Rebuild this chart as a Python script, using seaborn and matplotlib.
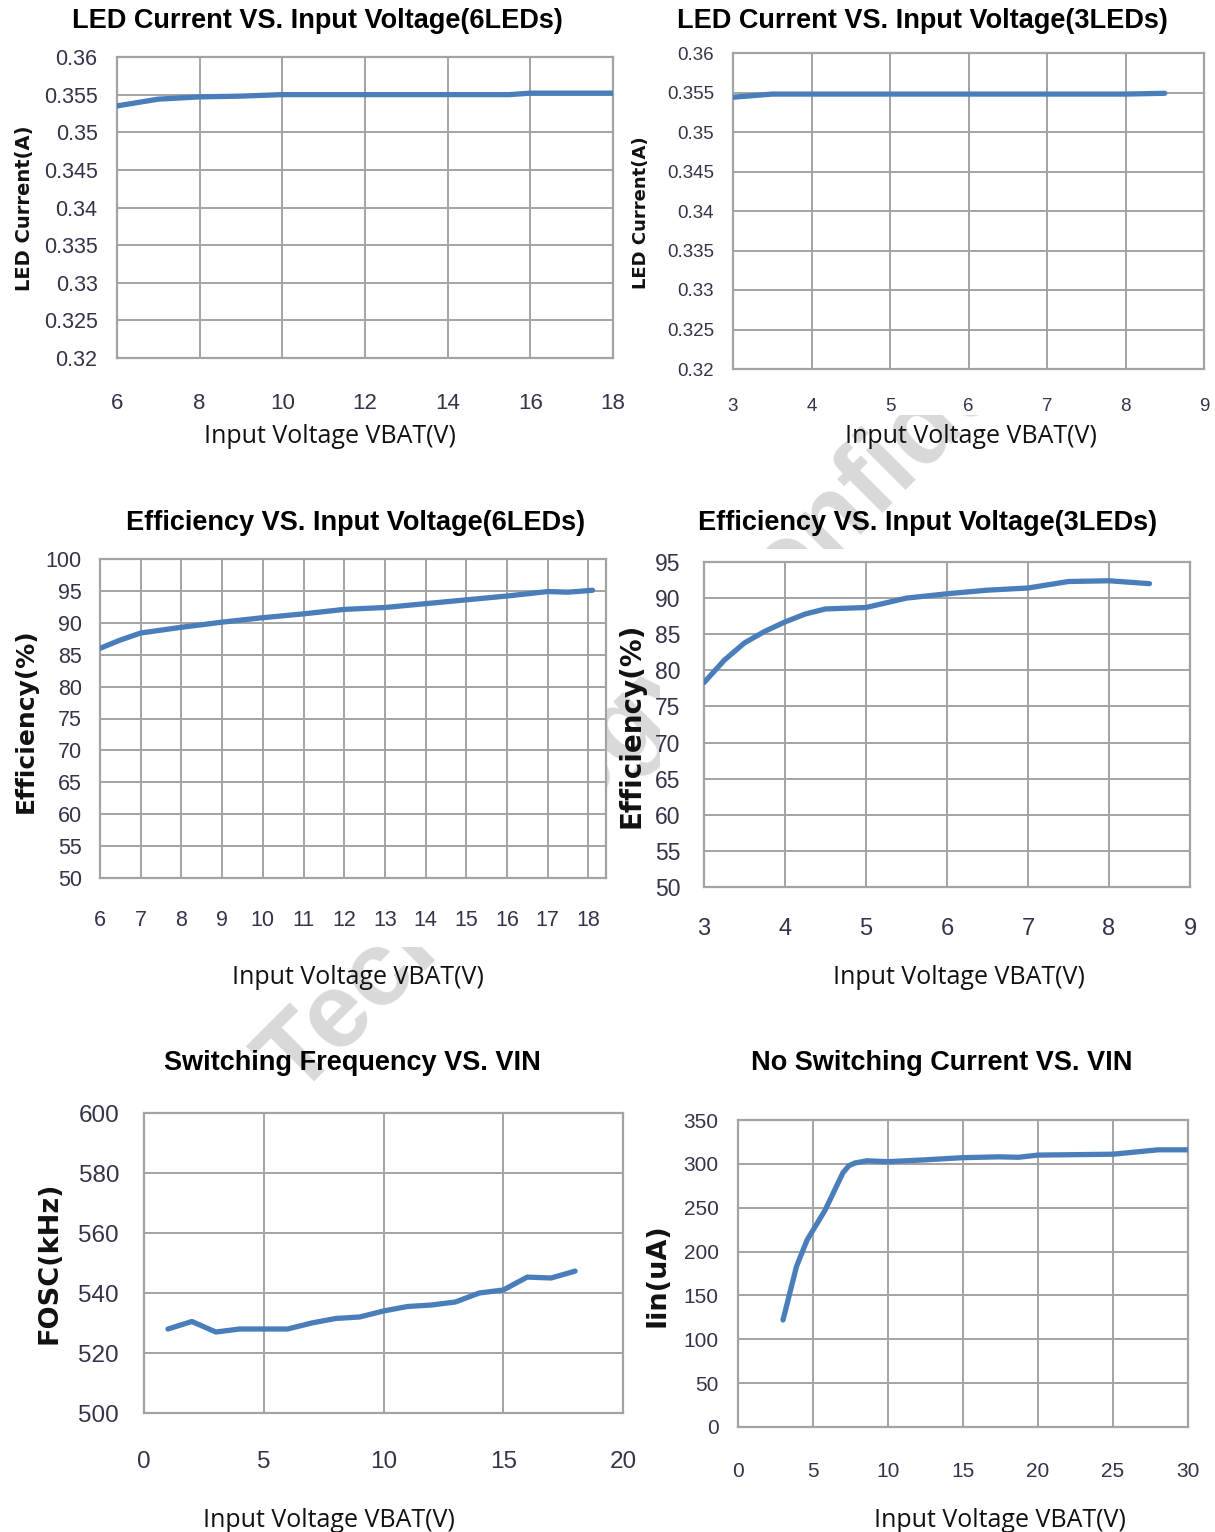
import matplotlib
matplotlib.use("Agg")
import matplotlib.pyplot as plt
import matplotlib.transforms as mtransforms
from matplotlib.patches import Rectangle
import seaborn as sns
import pandas as pd

# ---------------- data ----------------
led6_v = [6, 7, 8, 9, 10, 12, 14, 15.5, 16, 17, 18]
led6_i = [0.3535, 0.3544, 0.3547, 0.3548, 0.3550, 0.3550, 0.3550, 0.3550, 0.3552, 0.3552, 0.3552]

led3_v = [3, 3.5, 4, 5, 6, 7, 8, 8.5]
led3_i = [0.3544, 0.3548, 0.3548, 0.3548, 0.3548, 0.3548, 0.3548, 0.3549]

eff6_v = [6, 6.5, 7, 8, 9, 10, 11, 12, 13, 14, 15, 16, 17, 17.5, 18.1]
eff6 = [86.0, 87.3, 88.4, 89.3, 90.1, 90.8, 91.4, 92.1, 92.4, 93.0, 93.6, 94.2, 94.9, 94.8, 95.1]

eff3_v = [3, 3.25, 3.5, 3.75, 4, 4.25, 4.5, 5, 5.5, 6, 6.5, 7, 7.5, 8, 8.5]
eff3 = [78.3, 81.4, 83.8, 85.4, 86.7, 87.8, 88.5, 88.7, 90.0, 90.6, 91.1, 91.4, 92.3, 92.4, 92.0]

fosc_v = [1, 2, 3, 4, 5, 6, 7, 8, 9, 10, 11, 12, 13, 14, 15, 16, 17, 18]
fosc = [528, 530.5, 527, 528, 528, 528, 530, 531.5, 532, 534, 535.5, 536, 537, 540, 541, 545.3, 545, 547.3]

iin_v = [3, 3.9, 4.6, 5.8, 7.0, 7.4, 7.8, 8.6, 10, 12.4, 14.9, 17.4, 18.7, 20, 22.5, 25, 28, 30]
iin = [122, 183, 213, 247, 290, 298, 301, 303.5, 302.5, 304.5, 307, 308, 307.5, 310, 310.5, 311, 316, 316]

titles = ["LED Current VS. Input Voltage(6LEDs)", "LED Current VS. Input Voltage(3LEDs)",
          "Efficiency VS. Input Voltage(6LEDs)", "Efficiency VS. Input Voltage(3LEDs)",
          "Switching Frequency VS. VIN", "No Switching Current VS. VIN"]
ylabels = ["LED Current(A)", "LED Current(A)", "Efficiency(%)", "Efficiency(%)", "FOSC(kHz)", "Iin(uA)"]
xlabel = "Input Voltage VBAT(V)"
watermark = "Technology Confidential"

# ---------------- style ----------------
sns.set_theme(style="white")
plt.rcParams['font.family'] = ['Liberation Sans', 'DejaVu Sans']

W, H = 1215, 1532
fig = plt.figure(figsize=(W / 100, H / 100), dpi=100)
fig.patch.set_facecolor("white")

LINE = "#4a7ebb"
GRID = "#a3a3a3"
TICKC = "#33334a"
TFAM = ['Liberation Sans', 'DejaVu Sans']

# watermark behind the chart pictures (only visible in the gaps between them)
px2fig = mtransforms.Affine2D().scale(1 / W, -1 / H).translate(0, 1) + fig.transFigure
fig.text(0.245, 0.283, watermark, rotation=45, rotation_mode='anchor',
         ha='left', va='baseline', fontsize=76, color='#d9d9d9', fontweight='bold',
         family=['Liberation Sans', 'DejaVu Sans'], zorder=-1)
covers = [(0, 1092, 1215, 1532), (660, 549, 1215, 1092), (0, 0, 598, 947),
          (598, 900, 660, 947), (598, 0, 640, 549), (640, 0, 1060, 415), (1060, 0, 1215, 549)]
for x0, y0, x1, y1 in covers:
    fig.patches.append(Rectangle((x0, y1), x1 - x0, y0 - y1, transform=px2fig,
                                 facecolor="white", edgecolor="none", zorder=-0.5))


def make_axes(l, r, t, b):
    return fig.add_axes([l / W, 1 - b / H, (r - l) / W, (b - t) / H])


panels = [
    dict(x=led6_v, y=led6_i, box=(117, 613, 57, 358), xlim=(6, 18), xt=list(range(6, 19, 2)),
         ylim=(0.32, 0.36), yt=[0.32, 0.325, 0.33, 0.335, 0.34, 0.345, 0.35, 0.355, 0.36],
         ytl=["0.32", "0.325", "0.33", "0.335", "0.34", "0.345", "0.35", "0.355", "0.36"],
         xfs=16, yfs=15.5, xpad=25, ypad=14, ylfs=14,
         ylab=(-0.1865, 0.498), xlab=(0.429, -0.262), tit=(0.405, 1.093)),
    dict(x=led3_v, y=led3_i, box=(733, 1204, 53, 369), xlim=(3, 9), xt=list(range(3, 10)),
         ylim=(0.32, 0.36), yt=[0.32, 0.325, 0.33, 0.335, 0.34, 0.345, 0.35, 0.355, 0.36],
         ytl=["0.32", "0.325", "0.33", "0.335", "0.34", "0.345", "0.35", "0.355", "0.36"],
         xfs=13.5, yfs=13.5, xpad=21, ypad=13.5, ylfs=13,
         ylab=(-0.195, 0.494), xlab=(0.505, -0.215), tit=(0.403, 1.075)),
    dict(x=eff6_v, y=eff6, box=(100, 606, 559, 878), xlim=(6, 18.43), xt=list(range(6, 19)),
         ylim=(50, 100), yt=list(range(50, 101, 5)), ytl=[str(v) for v in range(50, 101, 5)],
         xfs=15.5, yfs=15.5, xpad=23, ypad=13, ylfs=18,
         ylab=(-0.146, 0.492), xlab=(0.51, -0.313), tit=(0.506, 1.088)),
    dict(x=eff3_v, y=eff3, box=(704, 1190, 562, 887), xlim=(3, 9), xt=list(range(3, 10)),
         ylim=(50, 95), yt=list(range(50, 96, 5)), ytl=[str(v) for v in range(50, 96, 5)],
         xfs=17, yfs=16.5, xpad=22, ypad=17, ylfs=20,
         ylab=(-0.150, 0.498), xlab=(0.525, -0.28), tit=(0.461, 1.095)),
    dict(x=fosc_v, y=fosc, box=(144, 623, 1113, 1413), xlim=(0, 20), xt=list(range(0, 21, 5)),
         ylim=(500, 600), yt=list(range(500, 601, 20)), ytl=[str(v) for v in range(500, 601, 20)],
         xfs=17.5, yfs=17.5, xpad=27, ypad=18, ylfs=19.5,
         ylab=(-0.198, 0.5), xlab=(0.386, -0.357), tit=(0.436, 1.14)),
    dict(x=iin_v, y=iin, box=(738, 1188, 1120, 1427), xlim=(0, 30), xt=list(range(0, 31, 5)),
         ylim=(0, 350), yt=list(range(0, 351, 50)), ytl=[str(v) for v in range(0, 351, 50)],
         xfs=15, yfs=15, xpad=25, ypad=14, ylfs=19.5,
         ylab=(-0.178, 0.495), xlab=(0.582, -0.303), tit=(0.453, 1.16)),
]

for k, p in enumerate(panels):
    ax = make_axes(*p["box"])
    ax.set_facecolor("white")
    df = pd.DataFrame({"v": p["x"], "y": p["y"]})
    sns.lineplot(data=df, x="v", y="y", ax=ax, color=LINE, linewidth=3.8, sort=False,
                 solid_capstyle='round', solid_joinstyle='round', zorder=3)
    ax.set_xlim(*p["xlim"])
    ax.set_ylim(*p["ylim"])
    ax.set_xticks(p["xt"])
    ax.set_xticklabels([str(v) for v in p["xt"]])
    ax.set_yticks(p["yt"])
    ax.set_yticklabels(p["ytl"])
    ax.grid(True, color=GRID, linewidth=1.4, zorder=1)
    ax.set_axisbelow(True)
    for s in ax.spines.values():
        s.set_visible(True)
        s.set_color(GRID)
        s.set_linewidth(1.6)
    ax.tick_params(axis='x', length=0, pad=p["xpad"], labelsize=p["xfs"], labelcolor=TICKC)
    ax.tick_params(axis='y', length=0, pad=p["ypad"], labelsize=p["yfs"], labelcolor=TICKC)
    for lab in ax.get_xticklabels() + ax.get_yticklabels():
        lab.set_family(TFAM)

    ax.set_xlabel(xlabel, fontsize=18, family=['Open Sans', 'DejaVu Sans'], color="#111111")
    ax.xaxis.label.set_va('center')
    ax.xaxis.set_label_coords(*p["xlab"])
    ax.set_ylabel(ylabels[k], fontsize=p["ylfs"], fontweight='bold',
                  family=['DejaVu Sans'], color="#111111")
    ax.yaxis.label.set_va('center')
    ax.yaxis.set_label_coords(*p["ylab"])

    ax.set_title(titles[k], fontsize=19.5, fontweight='bold',
                 family=['Liberation Sans', 'DejaVu Sans'], color="black",
                 x=p["tit"][0], y=p["tit"][1], va='center', ha='center')

fig.savefig("out.png", dpi=100, facecolor="white")
